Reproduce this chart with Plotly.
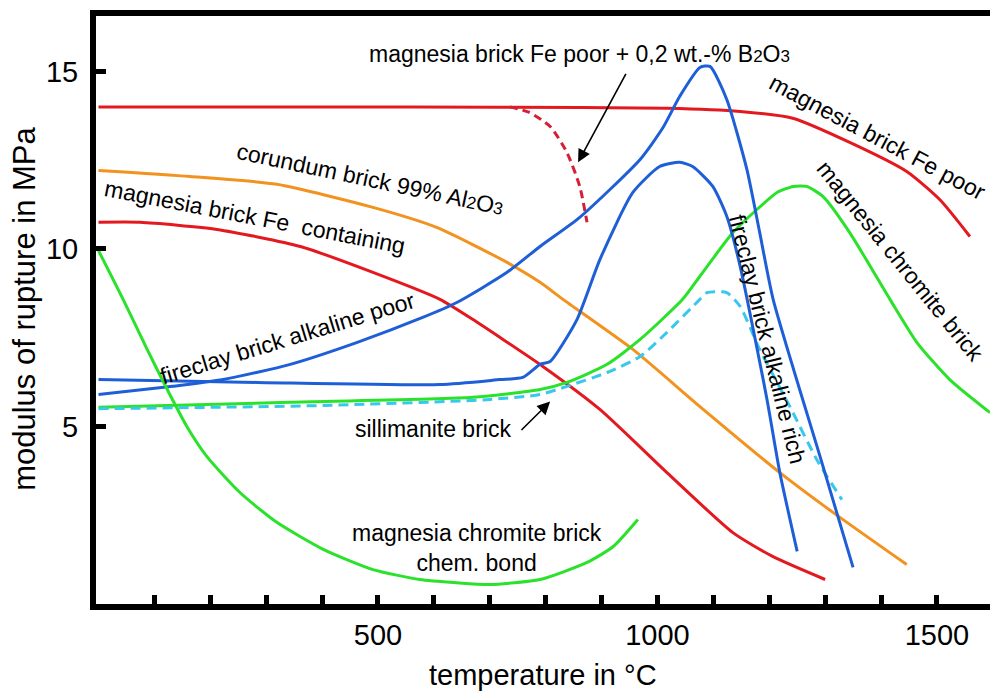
import plotly.graph_objects as go

# ---------------- data ----------------
mg_fe_poor_T = [0, 400, 718, 1017, 1148, 1242, 1344, 1446, 1505, 1559]
mg_fe_poor_v = [14.0, 14.0, 13.99, 13.96, 13.87, 13.68, 13.0, 12.18, 11.39, 10.35]

mg_b2o3_T = [736, 770, 808, 838, 861, 874]
mg_b2o3_v = [14.0, 13.85, 13.45, 12.72, 11.76, 10.75]

mg_fe_cont_T = [0, 74, 212, 361, 491, 611, 670, 718, 795, 897, 1017, 1135, 1206, 1300]
mg_fe_cont_v = [10.75, 10.75, 10.55, 10.07, 9.34, 8.58, 8.01, 7.51, 6.69, 5.48, 3.70, 2.01, 1.34, 0.69]

corundum_T = [0, 164, 319, 491, 606, 731, 790, 831, 956, 1076, 1219, 1314, 1446]
corundum_v = [12.21, 12.04, 11.82, 11.17, 10.6, 9.62, 9.06, 8.58, 7.17, 5.56, 3.70, 2.58, 1.11]

fc_poor_T = [0, 133, 223, 343, 463, 580, 641, 731, 790, 861, 969, 1010, 1040, 1076, 1094, 1124, 1160, 1183, 1207, 1291, 1350]
fc_poor_v = [5.90, 6.13, 6.32, 6.75, 7.37, 8.07, 8.49, 9.34, 10.07, 10.89, 12.52, 13.42, 14.3, 15.11, 15.14, 14.21, 12.24, 10.46, 8.58, 4.15, 1.03]

fc_rich_T = [0, 284, 611, 718, 759, 790, 808, 856, 897, 956, 1004, 1040, 1063, 1099, 1124, 1148, 1196, 1219, 1250]
fc_rich_v = [6.32, 6.24, 6.18, 6.32, 6.38, 6.75, 6.83, 8.01, 9.70, 11.59, 12.32, 12.44, 12.32, 11.76, 10.92, 9.51, 5.76, 3.70, 1.48]

mg_chrom_T = [0, 343, 670, 790, 838, 910, 969, 1045, 1076, 1135, 1178, 1214, 1243, 1267, 1296, 1344, 1416, 1464, 1523, 1595]
mg_chrom_v = [5.54, 5.68, 5.82, 6.04, 6.24, 6.75, 7.45, 8.58, 9.23, 10.46, 11.11, 11.59, 11.76, 11.76, 11.48, 10.46, 8.58, 7.37, 6.32, 5.39]

sillim_T = [0, 402, 700, 790, 838, 910, 969, 1017, 1076, 1089, 1124, 1148, 1183, 1237, 1285, 1330]
sillim_v = [5.50, 5.59, 5.76, 5.9, 6.13, 6.52, 6.97, 7.65, 8.58, 8.77, 8.77, 8.38, 7.17, 5.56, 4.07, 2.94]

mg_chem_T = [0, 44, 87, 123, 158, 194, 253, 319, 402, 491, 575, 641, 700, 790, 874, 921, 965]
mg_chem_v = [9.95, 8.58, 7.17, 6.04, 5.0, 4.15, 3.14, 2.30, 1.54, 0.97, 0.69, 0.60, 0.55, 0.69, 1.17, 1.62, 2.38]

x_tick_vals = list(range(100, 1600, 100))
x_tick_text = ["500" if t == 500 else "1000" if t == 1000 else "1500" if t == 1500 else "" for t in x_tick_vals]
y_tick_vals = [5, 10, 15]
y_tick_text = ["5", "10", "15"]

RED = "#e3191f"
RED_D = "#d41f35"
ORANGE = "#f2921f"
BLUE = "#1e5fd8"
GREEN = "#2be22b"
CYAN = "#38c8ec"

series = [
    (mg_fe_poor_T, mg_fe_poor_v, RED, "solid"),
    (mg_b2o3_T, mg_b2o3_v, RED_D, "8px,5px"),
    (mg_fe_cont_T, mg_fe_cont_v, RED, "solid"),
    (corundum_T, corundum_v, ORANGE, "solid"),
    (mg_chrom_T, mg_chrom_v, GREEN, "solid"),
    (sillim_T, sillim_v, CYAN, "10px,6px"),
    (fc_poor_T, fc_poor_v, BLUE, "solid"),
    (fc_rich_T, fc_rich_v, BLUE, "solid"),
    (mg_chem_T, mg_chem_v, GREEN, "solid"),
]

fig = go.Figure()
for xs, ys, col, dash in series:
    fig.add_trace(go.Scatter(x=xs, y=ys, mode="lines",
                             line=dict(color=col, width=3, dash=dash, shape="spline", smoothing=0.6),
                             showlegend=False, hoverinfo="skip"))

FONT = "Liberation Sans, Arial, sans-serif"
LF = 23
SUB = "<span style='font-size:17px'>%s</span>"
labels = [
    # text, x, y, angle
    ("magnesia brick Fe poor + 0,2 wt.-% B" + SUB % "2" + "O" + SUB % "3", 861, 15.48, 0),
    ("magnesia brick Fe poor", 1393, 13.14, 28),
    ("magnesia chromite brick", 1434, 9.65, 51),
    ("fireclay brick alkaline rich", 1196, 7.45, 76),
    ("corundum brick 99% Al" + SUB % "2" + "O" + SUB % "3", 486, 11.96, 12),
    ("magnesia brick Fe  containing", 280, 10.89, 11),
    ("fireclay brick alkaline poor", 339, 7.5, -17),
    ("sillimanite brick", 598, 4.92, 0),
    ("magnesia chromite brick<br>chem. bond", 677, 1.59, 0),
]
for txt, x, y, ang in labels:
    fig.add_annotation(x=x, y=y, xref="x", yref="y", text=txt, showarrow=False,
                       textangle=ang, font=dict(family=FONT, size=LF, color="black"),
                       xanchor="center", yanchor="middle")

arrows = [
    # head x, head y, tail x, tail y
    (858, 12.44, 945, 14.97),
    (808, 5.70, 754, 4.86),
]
for hx, hy, tx, ty in arrows:
    fig.add_annotation(x=hx, y=hy, ax=tx, ay=ty, xref="x", yref="y", axref="x", ayref="y",
                       text="", showarrow=True, arrowhead=2, arrowsize=1.6, arrowwidth=1.6,
                       arrowcolor="black")

# axis titles
fig.add_annotation(x=0.5, y=-0.121, xref="paper", yref="paper", text="temperature in °C",
                   showarrow=False, font=dict(family=FONT, size=29, color="black"),
                   xanchor="center", yanchor="middle")
fig.add_annotation(x=-0.0794, y=0.502, xref="paper", yref="paper", text="modulus of rupture in MPa",
                   showarrow=False, textangle=-90, font=dict(family=FONT, size=31, color="black"),
                   xanchor="center", yanchor="middle")

fig.update_layout(
    width=990, height=692,
    margin=dict(l=96, r=0, t=16, b=88),
    paper_bgcolor="white", plot_bgcolor="white",
    font=dict(family=FONT, color="black"),
    xaxis=dict(range=[-4.5, 1595], showgrid=False, zeroline=False,
               showline=True, linecolor="black", linewidth=6, mirror=True,
               ticks="inside", ticklen=9, tickwidth=5, tickcolor="black",
               tickvals=x_tick_vals, ticktext=x_tick_text,
               tickfont=dict(family=FONT, size=29, color="black")),
    yaxis=dict(range=[0, 16.56], showgrid=False, zeroline=False,
               showline=True, linecolor="black", linewidth=6,
               ticks="inside", ticklen=10, tickwidth=5, tickcolor="black",
               tickvals=y_tick_vals, ticktext=y_tick_text, ticklabelstandoff=6,
               tickfont=dict(family=FONT, size=29, color="black")),
)

fig.write_html("out.html")
